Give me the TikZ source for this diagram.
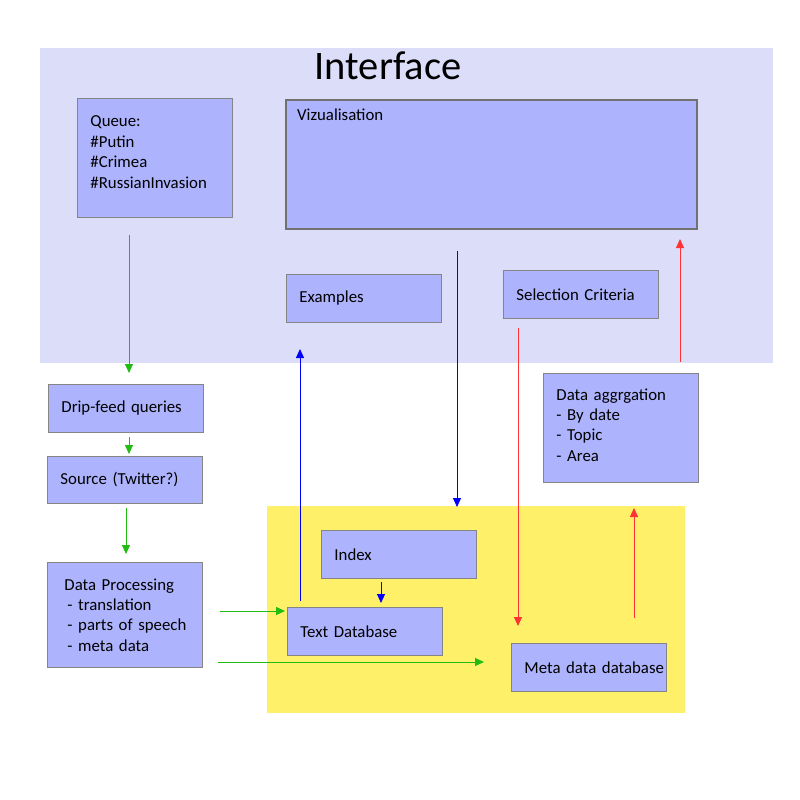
\documentclass[tikz,border=0pt]{standalone}
\usepackage{fontspec}
\setmainfont{Carlito}
\usetikzlibrary{arrows.meta}
\definecolor{ifbg}{HTML}{DCDEF9}
\definecolor{dbbg}{HTML}{FEF068}
\definecolor{boxfill}{HTML}{ADB3FD}
\definecolor{boxline}{HTML}{858585}
\definecolor{grn}{HTML}{22BB11}
\definecolor{blu}{HTML}{0000FF}
\definecolor{rd}{HTML}{FF3333}
\begin{document}
\begin{tikzpicture}[x=1pt,y=-1pt,
  box/.style={draw=boxline, fill=boxfill, line width=0.9pt, anchor=north west,
    align=left, inner xsep=13pt, inner ysep=0pt, font=\fontsize{16.8}{20.4}\selectfont},
  garrow/.style={draw=grn, line width=0.9pt, -{Triangle[width=8pt,length=9pt]}},
  barrow/.style={draw=blu, line width=0.9pt, -{Triangle[width=8pt,length=9pt]}},
  rarrow/.style={draw=rd, line width=0.9pt, -{Triangle[width=8pt,length=9pt]}}]
\useasboundingbox[fill=white] (0,0) rectangle (800,800);
% regions
\fill[ifbg] (40,48) rectangle (773,363);
\fill[dbbg] (267,506) rectangle (685,713);
\node[font=\fontsize{40.5}{46}\selectfont] (title) at (388,66) {Interface};
% boxes
\node[box, text width=129pt, minimum height=119pt] (queue) at (77,98)
  {Queue:\\\#Putin\\\#Crimea\\\#RussianInvasion\\[-8.4pt]\mbox{}};
\node[box, minimum width=411pt, minimum height=129pt, line width=1.8pt, draw=boxline!85!black,
  label={[anchor=north west, inner sep=0pt, xshift=12pt, yshift=-10pt, font=\fontsize{16.8}{20.4}\selectfont]north west:Vizualisation}]
  (viz) at (285,99) {};
\node[box, text width=129pt, minimum height=48pt] (examples) at (286,274) {Examples};
\node[box, text width=129pt, minimum height=48pt] (selcrit) at (503,270) {Selection Criteria};
\node[box, text width=129pt, minimum height=48pt] (drip) at (48,384) {Drip-feed queries};
\node[box, text width=121pt, inner xsep=17pt, minimum height=47pt] (source) at (47,456) {\hspace*{-4pt}Source (Twitter?)};
\node[box, text width=121pt, inner xsep=17pt, minimum height=105pt] (proc) at (47,562)
  {\mbox{Data Processing}\\\mbox{\hspace*{3pt}- translation}\\\mbox{\hspace*{3pt}- parts of speech}\\\mbox{\hspace*{3pt}- meta data}};
\node[box, text width=129pt, minimum height=109pt] (aggr) at (543,373)
  {Data aggrgation\\- By date\\- Topic\\- Area\\[-14.4pt]\mbox{}};
\node[box, text width=129pt, minimum height=48pt] (index) at (321,530) {Index};
\node[box, text width=129pt, minimum height=48pt] (textdb) at (287,607) {Text Database};
\node[box, text width=129pt, minimum height=48pt] (metadb) at (511,643) {\makebox[129pt][l]{Meta data database}};
% connector end points
\coordinate (g1s) at (129,235); \coordinate (g1e) at (129,373);
\coordinate (g2s) at (129,437); \coordinate (g2e) at (129,454);
\coordinate (g3s) at (126,508); \coordinate (g3e) at (126,554);
\coordinate (g4s) at (220,611); \coordinate (g4e) at (285,611);
\coordinate (g5s) at (218,662); \coordinate (g5e) at (484,662);
\coordinate (b1s) at (300,601); \coordinate (b1e) at (300,349);
\coordinate (b2s) at (457,251); \coordinate (b2e) at (457,507);
\coordinate (b3s) at (381,582); \coordinate (b3e) at (381,603);
\coordinate (r1s) at (518,328); \coordinate (r1e) at (518,626);
\coordinate (r2s) at (634,618); \coordinate (r2e) at (634,508);
\coordinate (r3s) at (680,362); \coordinate (r3e) at (680,239);
% connectors
\draw[garrow] (g1s) -- (g1e);
\draw[garrow] (g2s) -- (g2e);
\draw[garrow] (g3s) -- (g3e);
\draw[garrow] (g4s) -- (g4e);
\draw[garrow] (g5s) -- (g5e);
\draw[barrow] (b1s) -- (b1e);
\draw[barrow] (b2s) -- (b2e);
\draw[barrow] (b3s) -- (b3e);
\draw[rarrow] (r1s) -- (r1e);
\draw[rarrow] (r2s) -- (r2e);
\draw[rarrow] (r3s) -- (r3e);
\end{tikzpicture}
\end{document}
